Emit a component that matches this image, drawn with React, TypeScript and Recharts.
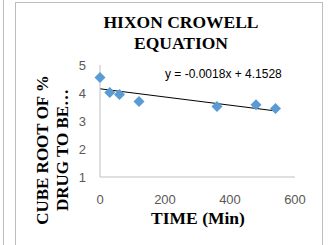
import {
  CartesianGrid,
  ReferenceLine,
  Scatter,
  ScatterChart,
  XAxis,
  YAxis,
} from "recharts";

const times = [0, 30, 60, 120, 360, 480, 540];
const cubeRoots = [4.55, 4.02, 3.95, 3.7, 3.52, 3.58, 3.45];
const xTicks = [0, 200, 400, 600];
const yTicks = [1, 2, 3, 4, 5];
const trendStart = { x: 0, y: 4.15 };
const trendEnd = { x: 540, y: 3.36 };

const points = times.map((t, i) => ({ time: t, value: cubeRoots[i] }));

const serif = "'Liberation Serif', 'Times New Roman', serif";
const sans = "'Liberation Sans', Arial, sans-serif";

function Diamond(props: { cx?: number; cy?: number }) {
  const { cx = 0, cy = 0 } = props;
  const r = 5.5;
  return (
    <polygon
      points={`${cx},${cy - r} ${cx + r},${cy} ${cx},${cy + r} ${cx - r},${cy}`}
      fill="#5b9bd5"
    />
  );
}

export default function App() {
  return (
    <div
      style={{
        position: "absolute",
        left: 0,
        top: 0,
        width: 329,
        height: 245,
        background: "#fff",
        overflow: "hidden",
      }}
    >
      {/* neighbouring chart edge and the frame */}
      <div
        style={{
          position: "absolute",
          left: 2,
          top: -2,
          width: 1,
          height: 250,
          borderRight: "1.5px solid #bdbdbd",
        }}
      />
      <div
        style={{
          position: "absolute",
          left: 15,
          top: 2,
          width: 308,
          height: 260,
          border: "1.5px solid #bdbdbd",
          boxSizing: "border-box",
        }}
      />
      <div
        style={{
          position: "absolute",
          left: 60,
          top: 12,
          width: 242,
          textAlign: "center",
          fontFamily: serif,
          fontWeight: "bold",
          fontSize: 17.5,
          lineHeight: "21px",
          color: "#000",
        }}
      >
        HIXON CROWELL
        <br />
        EQUATION
      </div>
      <div
        style={{
          position: "absolute",
          left: 53,
          top: 150,
          width: 190,
          transform: "translate(-50%, -50%) rotate(-90deg)",
          textAlign: "center",
          fontFamily: serif,
          fontWeight: "bold",
          fontSize: 17,
          lineHeight: "20px",
          color: "#000",
          whiteSpace: "nowrap",
        }}
      >
        CUBE ROOT OF %
        <br />
        DRUG TO BE…
      </div>
      <div
        style={{
          position: "absolute",
          left: 165,
          top: 67,
          fontFamily: sans,
          fontSize: 12,
          color: "#000",
          whiteSpace: "nowrap",
        }}
      >
        y = -0.0018x + 4.1528
      </div>
      <div
        style={{
          position: "absolute",
          left: 100,
          top: 208,
          width: 196,
          textAlign: "center",
          fontFamily: serif,
          fontWeight: "bold",
          fontSize: 17.5,
          color: "#000",
        }}
      >
        TIME (Min)
      </div>
      <ScatterChart
        width={329}
        height={245}
        margin={{ top: 65, right: 34, left: 80, bottom: 38 }}
        style={{ position: "absolute", left: 0, top: 0 }}
      >
        <CartesianGrid stroke="none" />
        <XAxis
          type="number"
          dataKey="time"
          domain={[0, 600]}
          ticks={xTicks}
          tickLine={false}
          axisLine={{ stroke: "#bfbfbf" }}
          tick={{ fill: "#595959", fontSize: 13, fontFamily: sans }}
          tickMargin={12}
          interval={0}
        />
        <YAxis
          type="number"
          dataKey="value"
          domain={[1, 5]}
          ticks={yTicks}
          width={20}
          tickLine={false}
          axisLine={{ stroke: "#bfbfbf" }}
          tick={{ fill: "#595959", fontSize: 13, fontFamily: sans }}
          tickMargin={8}
          interval={0}
        />
        <ReferenceLine
          segment={[trendStart, trendEnd]}
          stroke="#000"
          strokeWidth={1}
          ifOverflow="visible"
        />
        <Scatter data={points} shape={<Diamond />} isAnimationActive={false} />
      </ScatterChart>
    </div>
  );
}
